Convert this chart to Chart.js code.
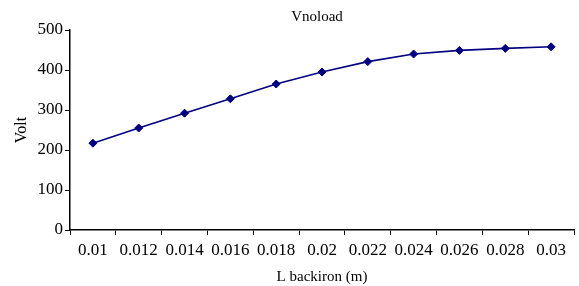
<!DOCTYPE html>
<html>
<head>
<meta charset="utf-8">
<script src="https://cdn.jsdelivr.net/npm/chart.js"></script>
<style>
  html, body { margin: 0; padding: 0; background: #fff; }
  #wrap { width: 579px; height: 286px; }
</style>
</head>
<body>
<div id="wrap"><canvas id="myChart"></canvas></div>
<script>
const lengths = ['0.01', '0.012', '0.014', '0.016', '0.018', '0.02', '0.022', '0.024', '0.026', '0.028', '0.03'];
const vnoload = [217, 255, 292, 328, 365, 395, 421, 440, 449, 454, 458];
const voltTicks = [0, 100, 200, 300, 400, 500];

const serif = "'Liberation Serif', 'Times New Roman', serif";

// title drawn over the plot area centre (Excel style)
const titlePlugin = {
  id: 'plotTitle',
  afterDraw(chart) {
    const { ctx, chartArea } = chart;
    ctx.save();
    ctx.font = '15px ' + serif;
    ctx.fillStyle = '#000';
    ctx.textAlign = 'center';
    ctx.textBaseline = 'middle';
    ctx.fillText('Vnoload', (chartArea.left + chartArea.right) / 2 - 5, 17);
    ctx.restore();
  }
};

new Chart(document.getElementById('myChart'), {
  type: 'line',
  data: {
    labels: lengths,
    datasets: [{
      label: 'Vnoload',
      data: vnoload,
      borderColor: '#000080',
      backgroundColor: '#000080',
      borderWidth: 1.6,
      pointStyle: 'rectRot',
      pointRadius: 4,
      pointBorderWidth: 1,
      tension: 0,
      fill: false
    }]
  },
  options: {
    responsive: true,
    maintainAspectRatio: false,
    animation: false,
    layout: { padding: { top: 30, right: 0, left: 0, bottom: 0 } },
    plugins: {
      legend: { display: false },
      tooltip: { enabled: false }
    },
    scales: {
      x: {
        offset: true,
        grid: {
          offset: true,
          drawOnChartArea: false,
          drawTicks: true,
          tickLength: 5,
          color: '#000'
        },
        border: { color: '#000', width: 1.5 },
        ticks: {
          color: '#000',
          font: { family: serif, size: 17 },
          padding: 5,
          maxRotation: 0,
          autoSkip: false
        },
        title: {
          display: true,
          text: 'L backiron (m)',
          color: '#000',
          font: { family: serif, size: 15 },
          padding: { top: 2, bottom: 0 }
        },
        afterFit(scale) { scale.height = 56; }
      },
      y: {
        min: 0,
        max: 500,
        afterBuildTicks(scale) { scale.ticks = voltTicks.map(v => ({ value: v })); },
        grid: {
          drawOnChartArea: false,
          drawTicks: true,
          tickLength: 5,
          color: '#000'
        },
        border: { color: '#000', width: 1.5 },
        ticks: {
          color: '#000',
          font: { family: serif, size: 17 },
          padding: 2
        },
        title: {
          display: true,
          text: 'Volt',
          color: '#000',
          font: { family: serif, size: 16 },
          padding: { top: 12, bottom: 4 }
        },
        afterFit(scale) { scale.width = 70; }
      }
    }
  },
  plugins: [titlePlugin]
});
</script>
</body>
</html>
